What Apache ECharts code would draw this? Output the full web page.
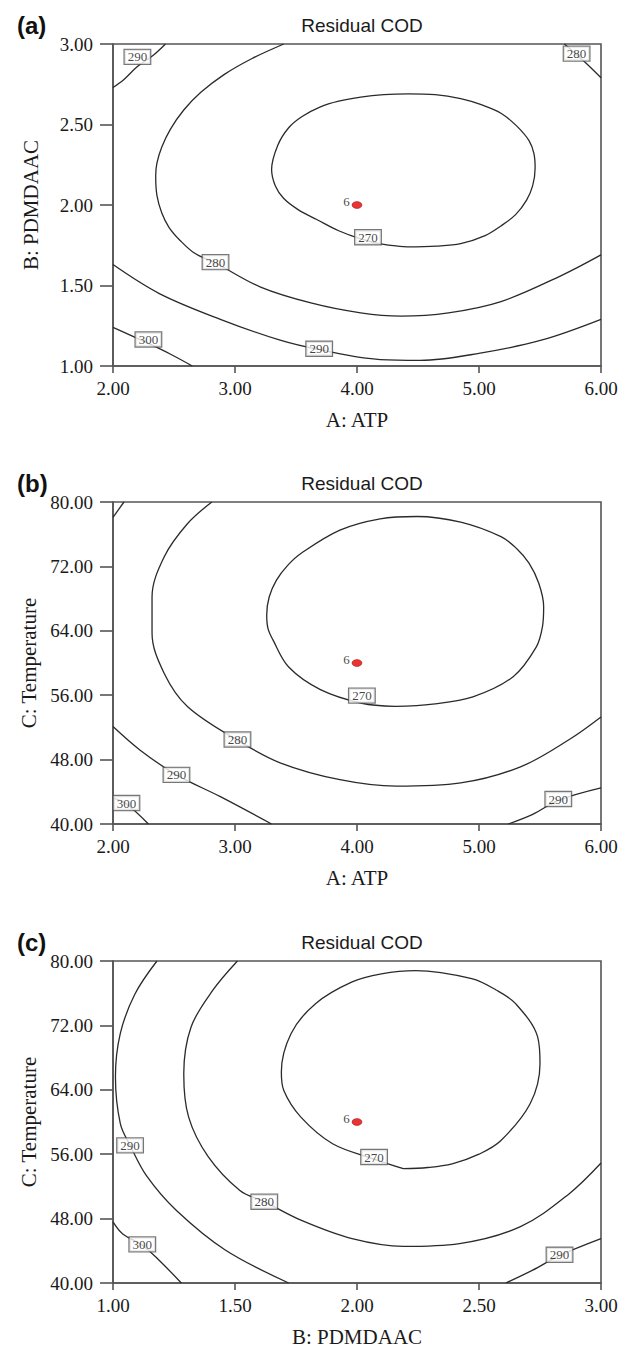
<!DOCTYPE html>
<html>
<head>
<meta charset="utf-8">
<script src="https://cdn.jsdelivr.net/npm/echarts@6/dist/echarts.min.js"></script>
<style>
html, body { margin: 0; padding: 0; background: #fff; }
#main { width: 630px; height: 1349px; }
</style>
</head>
<body>
<div id="main"></div>
<script>
// contour pieces, [x, y] in data units

// (a) A: ATP vs B: PDMDAAC
var a270 = [[4.41,1.74],[4.65,1.745],[4.85,1.76],[5.05,1.81],[5.18,1.87],[5.30,1.94],[5.39,2.03],[5.44,2.12],[5.46,2.23],[5.45,2.32],[5.41,2.40],[5.31,2.49],[5.18,2.57],[5.03,2.62],[4.85,2.66],[4.64,2.685],[4.42,2.69],[4.22,2.685],[4.03,2.67],[3.85,2.645],[3.70,2.61],[3.55,2.55],[3.44,2.48],[3.35,2.37],[3.30,2.22],[3.33,2.12],[3.40,2.04],[3.52,1.97],[3.67,1.91],[3.85,1.84],[4.03,1.79],[4.22,1.755],[4.41,1.74]];
var a280 = [[3.40,3.00],[3.14,2.91],[2.91,2.81],[2.72,2.70],[2.58,2.59],[2.47,2.47],[2.40,2.36],[2.36,2.26],[2.35,2.18],[2.36,2.06],[2.40,1.95],[2.46,1.86],[2.55,1.78],[2.67,1.70],[2.84,1.64],[3.21,1.49],[3.63,1.39],[4.03,1.33],[4.36,1.31],[4.75,1.33],[5.18,1.40],[5.67,1.56],[6.00,1.69]];
var a280r = [[5.70,3.00],[5.85,2.90],[6.00,2.79]];
var a290t = [[2.43,3.00],[2.33,2.93],[2.20,2.86],[2.09,2.78],[2.00,2.73]];
var a290 = [[2.00,1.63],[2.38,1.45],[2.88,1.29],[3.37,1.16],[3.70,1.10],[4.19,1.04],[4.52,1.035],[5.01,1.08],[5.51,1.16],[6.00,1.29]];
var a300 = [[2.00,1.24],[2.29,1.14],[2.48,1.07],[2.65,1.00]];
var aLabels = [[2.20,2.92,'290'],[5.80,2.94,'280'],[4.09,1.80,'270'],[2.84,1.645,'280'],[2.29,1.165,'300'],[3.69,1.107,'290']];
var aRun = [[4.00,2.00,'6']];

// (b) A: ATP vs C: Temperature
var b270 = [[4.31,54.6],[4.62,54.9],[4.95,55.8],[5.28,58.3],[5.47,62.0],[5.52,64.5],[5.53,67.0],[5.49,69.9],[5.41,72.4],[5.31,74.2],[5.18,75.7],[4.85,77.5],[4.49,78.2],[4.19,77.9],[3.86,76.5],[3.54,73.6],[3.43,72.1],[3.34,70.3],[3.28,68.2],[3.26,65.95],[3.27,64.3],[3.31,62.9],[3.44,59.5],[3.70,56.7],[4.04,55.0],[4.31,54.6]];
var b280 = [[2.81,80],[2.61,77.3],[2.42,73.2],[2.32,68.2],[2.32,63.7],[2.42,58.7],[2.61,54.6],[3.01,50.5],[3.37,47.6],[3.86,45.5],[4.32,44.7],[4.85,45.1],[5.34,47.1],[5.74,50.5],[6.00,53.3]];
var b290t = [[2.00,78.1],[2.09,80]];
var b290 = [[2.00,52.1],[2.22,49.2],[2.52,46.1],[2.88,43.4],[3.30,40.0]];
var b290r = [[5.24,40.0],[5.44,41.2],[5.66,43.0],[6.00,44.5]];
var b300 = [[2.00,43.2],[2.10,42.6],[2.29,40.0]];
var bLabels = [[4.04,55.95,'270'],[3.02,50.5,'280'],[2.52,46.1,'290'],[2.11,42.6,'300'],[5.65,43.1,'290']];
var bRun = [[4.00,60.0,'6']];

// (c) B: PDMDAAC vs C: Temperature
var c270 = [[2.19,54.2],[2.29,54.35],[2.39,54.8],[2.50,56.0],[2.59,57.7],[2.71,62.3],[2.75,67.25],[2.74,70.6],[2.65,74.7],[2.57,76.4],[2.47,77.8],[2.24,78.8],[2.10,78.4],[1.98,77.4],[1.83,74.7],[1.73,71.0],[1.69,66.2],[1.70,63.9],[1.77,60.6],[1.90,57.3],[2.07,55.4],[2.19,54.2]];
var c280 = [[1.51,80],[1.41,76.4],[1.32,71.8],[1.29,66.0],[1.31,60.6],[1.39,55.7],[1.52,51.5],[1.62,50.1],[1.77,47.8],[1.98,45.5],[2.19,44.55],[2.42,44.9],[2.67,47.0],[2.87,51.1],[3.00,54.9]];
var c290 = [[1.18,80],[1.09,75.9],[1.03,71.0],[1.01,65.6],[1.03,59.8],[1.07,57.1],[1.14,53.2],[1.26,49.0],[1.46,44.1],[1.72,40.0]];
var c290r = [[2.61,40.0],[2.72,41.6],[2.83,43.4],[3.00,45.5]];
var c300 = [[1.00,47.6],[1.04,46.1],[1.12,44.7],[1.19,42.8],[1.28,40.0]];
var cLabels = [[1.07,57.1,'290'],[1.62,50.1,'280'],[2.07,55.65,'270'],[1.12,44.8,'300'],[2.83,43.5,'290']];
var cRun = [[2.00,60.0,'6']];

var panelTags = ['(a)', '(b)', '(c)'];
var panelTitle = 'Residual COD';
var xNames = ['A: ATP', 'A: ATP', 'B: PDMDAAC'];
var yNames = ['B: PDMDAAC', 'C: Temperature', 'C: Temperature'];
var xRanges = [[2, 6, 1], [2, 6, 1], [1, 3, 0.5]];
var yRanges = [[1, 3, 0.5], [40, 80, 8], [40, 80, 8]];

var SERIF = '"Liberation Serif", "DejaVu Serif", serif';
var SANS = '"Liberation Sans", Arial, sans-serif';
var gridTops = [44, 502, 961];

function contour(i, pts) {
    return {
        type: 'line', xAxisIndex: i, yAxisIndex: i, data: pts,
        smooth: 0.35, symbol: 'none', silent: true, z: 2,
        lineStyle: { color: '#2a2a2a', width: 1.3 }
    };
}

function levelLabels(i, pts) {
    return {
        type: 'scatter', xAxisIndex: i, yAxisIndex: i, data: pts,
        symbolSize: 1, itemStyle: { color: 'rgba(0,0,0,0)' }, silent: true, z: 5,
        label: {
            show: true, position: 'inside',
            formatter: function (p) { return p.value[2]; },
            fontFamily: SERIF, fontSize: 13, color: '#111', lineHeight: 13,
            backgroundColor: '#fff', borderColor: '#555', borderWidth: 1.2,
            padding: [1, 3, 0, 3]
        }
    };
}

function runPoint(i, pts) {
    return {
        type: 'scatter', xAxisIndex: i, yAxisIndex: i, data: pts,
        symbol: 'circle', symbolSize: [10, 7], silent: true, z: 6,
        itemStyle: { color: '#e60000', borderColor: '#700', borderWidth: 0.5 },
        label: {
            show: true, position: 'left', distance: 2, offset: [0, -4],
            formatter: function (p) { return p.value[2]; },
            fontFamily: SERIF, fontSize: 13, color: '#111'
        }
    };
}

var grids = [], xAxes = [], yAxes = [], titles = [];
for (var i = 0; i < 3; i++) {
    grids.push({
        left: 113, top: gridTops[i], width: 488, height: 322,
        show: true, borderColor: '#555', borderWidth: 1.6, backgroundColor: 'transparent'
    });
    xAxes.push({
        gridIndex: i, type: 'value', min: xRanges[i][0], max: xRanges[i][1], interval: xRanges[i][2],
        name: xNames[i], nameLocation: 'middle', nameGap: 43,
        nameTextStyle: { fontFamily: SERIF, fontSize: 21, color: '#1a1a1a' },
        axisLine: { show: true, lineStyle: { color: '#555', width: 1.6 } },
        axisTick: { show: true, length: 7, lineStyle: { color: '#555', width: 1.6 } },
        axisLabel: {
            margin: 13, fontFamily: SERIF, fontSize: 19, color: '#1a1a1a',
            formatter: function (v) { return v.toFixed(2); }
        },
        splitLine: { show: false }
    });
    yAxes.push({
        gridIndex: i, type: 'value', min: yRanges[i][0], max: yRanges[i][1], interval: yRanges[i][2],
        name: yNames[i], nameLocation: 'middle', nameGap: 72,
        nameTextStyle: { fontFamily: SERIF, fontSize: 21, color: '#1a1a1a' },
        axisLine: { show: true, lineStyle: { color: '#555', width: 1.6 } },
        axisTick: { show: true, length: 13, lineStyle: { color: '#555', width: 1.6 } },
        axisLabel: {
            margin: 20, fontFamily: SERIF, fontSize: 19, color: '#1a1a1a',
            formatter: function (v) { return v.toFixed(2); }
        },
        splitLine: { show: false }
    });
    titles.push({
        text: panelTags[i], left: 12, top: gridTops[i] - 36,
        textStyle: { fontFamily: SANS, fontSize: 24, fontWeight: 'bold', color: '#111' }
    });
    titles.push({
        text: panelTitle, left: 357, top: gridTops[i] - 33, textAlign: 'center',
        textStyle: { fontFamily: SANS, fontSize: 19, fontWeight: 'normal', color: '#1a1a1a' }
    });
}

var series = [
    contour(0, a270), contour(0, a280), contour(0, a280r), contour(0, a290t), contour(0, a290), contour(0, a300),
    levelLabels(0, aLabels), runPoint(0, aRun),
    contour(1, b270), contour(1, b280), contour(1, b290t), contour(1, b290), contour(1, b290r), contour(1, b300),
    levelLabels(1, bLabels), runPoint(1, bRun),
    contour(2, c270), contour(2, c280), contour(2, c290), contour(2, c290r), contour(2, c300),
    levelLabels(2, cLabels), runPoint(2, cRun)
];

var chart = echarts.init(document.getElementById('main'), null, { renderer: 'svg' });
chart.setOption({
    animation: false,
    backgroundColor: '#fff',
    title: titles,
    grid: grids,
    xAxis: xAxes,
    yAxis: yAxes,
    series: series
});
</script>
</body>
</html>
